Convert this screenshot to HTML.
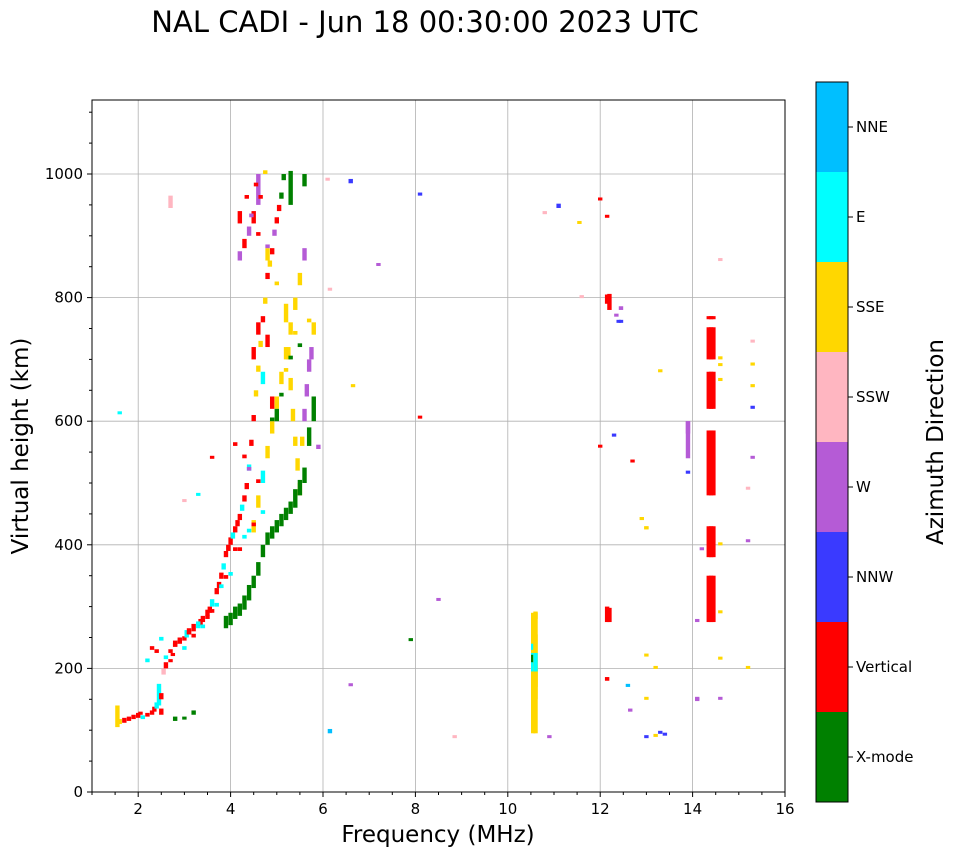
<!DOCTYPE html>
<html><head><meta charset="utf-8">
<style>
body{margin:0;background:#fff;font-family:"DejaVu Sans","Liberation Sans",sans-serif;}
svg text{font-family:"DejaVu Sans","Liberation Sans",sans-serif;}
</style></head>
<body>
<svg id="chart" width="958" height="857" xmlns="http://www.w3.org/2000/svg">
<rect width="958" height="857" fill="#fff"/>
<text x="425" y="32" font-size="29" text-anchor="middle">NAL CADI - Jun 18 00:30:00 2023 UTC</text>
<g id="grid"></g>
<g id="marks"></g>
<rect x="92" y="100" width="693" height="692" fill="none" stroke="#000" stroke-width="1"/>
<g id="axes"></g>
<text x="438" y="842" font-size="23" text-anchor="middle">Frequency (MHz)</text>
<text transform="translate(28,446) rotate(-90)" font-size="23" text-anchor="middle">Virtual height (km)</text>
<g id="colorbar"></g>
<text transform="translate(943,442) rotate(-90)" font-size="23" text-anchor="middle">Azimuth Direction</text>
</svg>
<script>
const xTicks=[2,4,6,8,10,12,14,16];
const yTicks=[0,200,400,600,800,1000];
const categories=["X-mode","Vertical","NNW","W","SSW","SSE","E","NNE"];
const catColors=["#008000","#ff0000","#3a3aff","#b55bd6","#ffb6c1","#ffd700","#00ffff","#00bfff"];
// echoes: frequency (MHz), bottom height (km), top height (km), category index
const freqs=[1.55,1.6,1.7,1.8,1.9,2.0,2.05,2.1,2.2,2.3,2.35,2.4,2.45,2.5,2.5,2.55,2.6,2.7,2.75,2.8,2.9,3.0,3.05,3.1,3.2,3.3,3.35,3.4,3.5,3.55,3.6,3.7,3.75,3.8,3.85,3.9,3.95,4.0,4.05,4.1,4.15,4.2,4.25,4.3,4.35,4.4,4.45,4.5,4.55,4.6,4.65,4.7,4.75,4.8,4.85,4.9,4.95,5.0,5.05,5.1,5.15,5.2,5.25,5.3,5.35,5.4,5.45,5.5,5.55,5.6,5.65,5.7,5.75,5.8,
3.9,4.0,4.1,4.2,4.3,4.4,4.5,4.6,4.7,4.8,4.9,5.0,5.1,5.2,5.3,5.4,5.5,5.6,5.7,5.8,5.3,5.6,4.2,4.8,
4.5,4.6,4.7,4.8,4.9,5.0,5.1,5.2,5.3,5.4,5.5,5.6,4.3,4.4,4.5,4.6,4.2,4.9,5.0,4.7,4.8,4.5,4.6,
3.0,3.3,3.6,2.7,3.2,1.6,2.8,3.0,5.9,6.1,6.15,6.6,6.65,7.2,8.1,8.1,8.5,7.9,8.85,
10.55,10.55,10.55,10.55,10.55,10.55,10.6,10.9,11.1,11.55,12.0,12.15,12.15,12.15,12.4,12.35,12.15,12.3,12.6,12.65,12.7,12.0,13.0,13.2,13.0,13.2,13.0,13.0,13.4,13.3,12.9,13.0,13.9,13.9,13.9,14.1,14.1,14.2,14.4,14.4,14.4,14.4,14.4,14.4,14.6,14.6,14.6,14.6,14.6,14.6,14.6,14.6,15.2,15.2,15.2,15.3,15.3,15.3,15.3,15.3,10.8,11.6,14.1,13.3,6.6,6.15,
10.6,10.6,10.6,10.6,14.35,14.35,14.35,14.35,14.35,14.35,14.45,14.45,14.45,14.45,14.45,14.45,12.2,12.2,12.45,12.45,
2.2,2.4,2.6,2.8,3.0,3.2,3.4,3.6,3.8,4.0,4.2,4.4,2.3,2.5,2.7,2.9,3.1,3.3,3.5,3.7,3.9,4.1,4.3,4.5,4.7,4.6,4.4,4.3,4.1,4.9,5.1,5.3,5.5,5.7,5.2,5.4,5.0,4.8,4.6,4.45,4.35,4.55,4.75,4.65];
const h0=[105,110,112,115,118,120,125,118,122,125,130,135,140,150,125,190,200,210,220,235,240,245,250,255,260,265,270,275,285,290,300,320,330,345,360,380,390,400,410,420,430,440,455,470,490,520,560,600,640,680,720,760,790,830,850,870,900,920,940,960,990,760,700,650,600,560,520,480,560,600,640,680,700,740,
265,270,280,285,295,310,330,350,380,400,410,420,430,440,450,460,480,500,560,600,950,980,860,860,
420,460,500,540,580,620,660,700,740,780,820,860,880,900,920,950,920,620,600,660,720,700,740,
470,480,540,945,125,612,115,118,555,990,812,985,655,852,965,605,310,245,88,
95,150,170,195,210,230,280,88,945,920,958,275,180,790,760,770,930,575,170,130,535,558,88,90,150,200,220,425,92,95,440,425,515,540,580,148,275,392,275,380,480,620,700,765,150,215,290,400,665,690,700,860,200,405,490,540,620,655,690,728,935,800,150,680,172,95,
95,150,170,195,275,380,480,620,700,765,275,380,480,620,700,765,275,780,760,780,
210,225,215,235,230,250,265,290,330,350,390,420,230,245,225,240,255,270,280,300,345,390,410,430,450,500,520,540,560,600,640,700,720,760,680,740,820,880,900,930,960,980,1000,960];
const h1=[140,118,120,122,125,128,130,124,128,132,138,145,175,160,135,200,210,215,225,245,250,252,262,265,272,275,280,285,295,300,312,330,340,355,370,390,400,412,420,430,440,450,465,480,500,530,570,610,650,690,730,770,800,840,860,880,910,930,950,970,1000,790,720,670,620,575,540,500,575,620,660,700,720,760,
285,290,300,305,318,335,350,372,400,420,430,440,450,460,470,490,505,525,590,640,1005,1000,875,880,
440,480,520,560,600,640,680,720,760,800,840,880,895,915,940,1000,940,640,620,680,740,720,760,
474,484,544,965,132,616,122,122,562,994,816,992,660,856,970,609,314,249,92,
290,255,205,225,222,240,292,92,952,924,962,300,186,805,764,774,934,580,175,135,538,562,92,94,154,204,224,430,96,99,445,430,520,600,600,152,280,396,350,430,585,680,752,770,154,219,294,404,670,694,705,864,204,409,494,544,625,660,695,732,940,804,154,684,176,102,
290,255,205,225,350,430,585,680,752,770,350,430,585,680,752,770,298,806,764,786,
216,231,221,241,236,256,271,296,336,356,396,426,236,251,231,246,261,276,286,306,351,396,416,436,456,506,526,546,566,606,646,706,726,766,686,746,826,886,906,936,966,986,1006,966];
const cats=[5,5,1,1,1,1,1,6,1,1,1,6,6,1,1,4,1,1,1,1,1,1,6,1,1,6,1,1,1,1,6,1,1,1,6,1,1,1,6,1,1,1,6,1,1,6,1,1,5,5,5,1,5,1,5,1,3,1,1,0,0,5,5,5,5,5,5,5,5,3,3,3,3,5,
0,0,0,0,0,0,0,0,0,0,0,0,0,0,0,0,0,0,0,0,0,0,3,5,
5,5,6,5,5,5,5,5,5,5,5,3,1,3,1,3,1,1,0,6,1,1,1,
4,6,1,4,0,6,0,0,3,4,4,2,5,3,2,1,3,0,4,
5,5,5,6,0,6,5,3,2,5,1,1,1,1,2,3,1,2,7,3,1,1,2,5,5,5,5,5,2,2,5,5,2,3,3,3,3,3,1,1,1,1,1,1,3,5,5,5,5,5,5,4,5,3,4,3,2,5,5,4,4,4,3,5,3,7,
5,5,5,6,1,1,1,1,1,1,1,1,1,1,1,1,1,1,2,3,
6,1,6,1,6,1,6,1,6,6,1,6,1,6,1,1,1,6,1,6,1,1,6,1,6,1,3,1,1,0,0,0,0,5,5,5,5,3,1,3,1,1,5,1];
const xMinor=[1,1.5,2.5,3,3.5,4.5,5,5.5,6.5,7,7.5,8.5,9,9.5,10.5,11,11.5,12.5,13,13.5,14.5,15,15.5];
const yMinor=[50,100,150,250,300,350,450,500,550,650,700,750,850,900,950,1050,1100];
const NS="http://www.w3.org/2000/svg";
const x=f=>92+(f-1)*46.2;
const y=h=>792-h*0.618;
const grid=document.getElementById('grid'),axes=document.getElementById('axes'),marks=document.getElementById('marks'),cb=document.getElementById('colorbar');
function mk(t,a,p){const e=document.createElementNS(NS,t);for(const k in a)e.setAttribute(k,a[k]);p.appendChild(e);return e;}
xTicks.forEach(v=>{
 if(v<16){const l=mk('line',{x1:x(v),x2:x(v),y1:100,y2:792,stroke:'#b0b0b0','stroke-width':0.8},grid);
 
 }
 mk('line',{x1:x(v),x2:x(v),y1:792,y2:797,stroke:'#000'},axes);
 const t=mk('text',{x:x(v),y:814,'font-size':15,'text-anchor':'middle'},axes);t.textContent=v;
 
 
});
xMinor.forEach(v=>mk('line',{x1:x(v),x2:x(v),y1:792,y2:795,stroke:'#000'},axes));
yMinor.forEach(v=>mk('line',{x1:89,x2:92,y1:y(v),y2:y(v),stroke:'#000'},axes));
yTicks.forEach(v=>{
 if(v>0){const l=mk('line',{x1:92,x2:785,y1:y(v),y2:y(v),stroke:'#b0b0b0','stroke-width':0.8},grid);
 
 }
 mk('line',{x1:87,x2:92,y1:y(v),y2:y(v),stroke:'#000'},axes);
 const t=mk('text',{x:83,y:y(v)+5,'font-size':15,'text-anchor':'end'},axes);t.textContent=v;
 
 
});
for(let i=0;i<freqs.length;i++){
 const r=mk('rect',{x:x(freqs[i])-2.2,y:y(h1[i]),width:4.4,height:Math.max(3,y(h0[i])-y(h1[i])),fill:catColors[cats[i]]},marks);
 
 
}
categories.forEach((c,i)=>{
 const top=802-(i+1)*90;
 const r=mk('rect',{x:816,y:top,width:32,height:90,fill:catColors[i]},cb);
 
 
 mk('line',{x1:848,x2:853,y1:top+45,y2:top+45,stroke:'#000'},cb);
 const t=mk('text',{x:856,y:top+50,'font-size':15},cb);t.textContent=c;
 
 
});
mk('rect',{x:816,y:82,width:32,height:720,fill:'none',stroke:'#000'},cb);
</script>
</body></html>
